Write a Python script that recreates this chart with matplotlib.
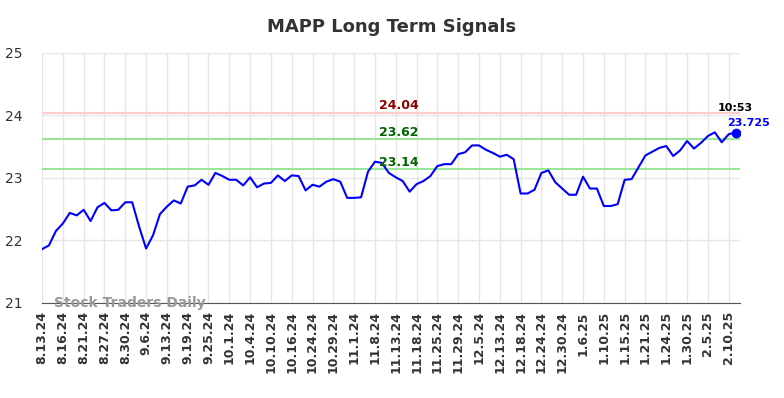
import numpy as np
import pandas as pd
import matplotlib
matplotlib.use("Agg")
import matplotlib.pyplot as plt

# closing prices (101 sessions)
prices = [21.86, 21.92, 22.15, 22.27, 22.44, 22.40, 22.49, 22.31, 22.53, 22.60,
          22.48, 22.49, 22.61, 22.61, 22.22, 21.87, 22.08, 22.42, 22.54, 22.64,
          22.59, 22.86, 22.88, 22.97, 22.89, 23.08, 23.03, 22.97, 22.97, 22.88,
          23.01, 22.85, 22.91, 22.92, 23.04, 22.95, 23.04, 23.03, 22.80, 22.89,
          22.86, 22.94, 22.98, 22.94, 22.68, 22.68, 22.69, 23.10, 23.26, 23.24,
          23.08, 23.01, 22.95, 22.78, 22.90, 22.95, 23.03, 23.19, 23.22, 23.22,
          23.38, 23.41, 23.52, 23.52, 23.45, 23.40, 23.34, 23.37, 23.30, 22.75,
          22.75, 22.81, 23.08, 23.12, 22.93, 22.83, 22.73, 22.73, 23.02, 22.83,
          22.83, 22.55, 22.55, 22.58, 22.97, 22.98, 23.17, 23.36, 23.42, 23.48,
          23.51, 23.35, 23.44, 23.59, 23.47, 23.56, 23.67, 23.73, 23.57, 23.70,
          23.725]

tick_labels = ["8.13.24", "8.16.24", "8.21.24", "8.27.24", "8.30.24", "9.6.24",
               "9.13.24", "9.19.24", "9.25.24", "10.1.24", "10.4.24", "10.10.24",
               "10.16.24", "10.24.24", "10.29.24", "11.1.24", "11.8.24", "11.13.24",
               "11.18.24", "11.25.24", "11.29.24", "12.5.24", "12.13.24", "12.18.24",
               "12.24.24", "12.30.24", "1.6.25", "1.10.25", "1.15.25", "1.21.25",
               "1.24.25", "1.30.25", "2.5.25", "2.10.25"]

resistance = 24.04
support_hi = 23.62
support_lo = 23.14
last_time = "10:53"

x = np.arange(len(prices))
tick_pos = np.arange(0, 3 * len(tick_labels), 3)

fig = plt.figure(figsize=(7.84, 3.98), dpi=100)
ax = fig.add_axes([0.0536, 0.239, 0.89, 0.628])

ax.set_xlim(0, 100.6)
ax.set_ylim(21, 25)
ax.set_xticks(tick_pos)
ax.set_xticklabels(tick_labels, rotation=90, fontsize=9, fontweight="bold", color="#333333")
ax.set_yticks([21, 22, 23, 24, 25])
ax.tick_params(axis="y", labelsize=10, colors="#333333", length=0, pad=14)
ax.tick_params(axis="x", length=0, pad=6)
ax.grid(True, color="#e6e6e6", linewidth=1)
ax.set_axisbelow(True)
for s in ["top", "right", "left"]:
    ax.spines[s].set_visible(False)
ax.spines["bottom"].set_color("#555555")

ax.axhline(resistance, color="#ffcccc", linewidth=1.5)
ax.axhline(support_hi, color="#99e699", linewidth=1.5)
ax.axhline(support_lo, color="#99e699", linewidth=1.5)

ax.plot(x, prices, color="#0000ff", linewidth=1.5)
ax.plot(x[-1], prices[-1], "o", color="#0000ff", markersize=6)

ax.text(51.5, resistance + 0.01, f"{resistance:.2f}", color="#8b0000", fontsize=9,
        fontweight="bold", ha="center", va="bottom")
ax.text(51.5, support_hi + 0.01, f"{support_hi:.2f}", color="#006400", fontsize=9,
        fontweight="bold", ha="center", va="bottom")
ax.text(51.5, support_lo + 0.01, f"{support_lo:.2f}", color="#006400", fontsize=9,
        fontweight="bold", ha="center", va="bottom")

ax.text(x[-1], prices[-1] + 0.31, last_time, color="black", fontsize=8,
        fontweight="bold", ha="center", va="bottom")
ax.text(x[-1] + 1.8, prices[-1] + 0.08, f"{prices[-1]}", color="#0000ff", fontsize=8,
        fontweight="bold", ha="center", va="bottom")

ax.text(1.7, 21.0, "Stock Traders Daily", color="#999999", fontsize=10,
        fontweight="bold", ha="left", va="center")

fig.suptitle("MAPP Long Term Signals", fontsize=13, fontweight="bold",
             color="#333333", y=0.955)

fig.savefig("out.png", dpi=100)
